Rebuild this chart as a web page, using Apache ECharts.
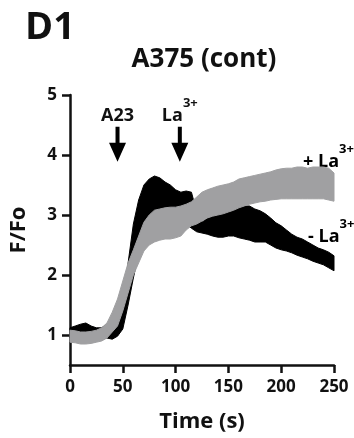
<!DOCTYPE html>
<html><head><meta charset="utf-8">
<script src="https://cdn.jsdelivr.net/npm/echarts@6/dist/echarts.min.js"></script>
<style>html,body{margin:0;padding:0;background:#fff}#c{width:354px;height:438px}</style>
</head><body><div id="c"></div>
<script>
// Time points (s)
const times = [0,5,10,15,20,25,30,35,40,45,50,55,60,65,70,75,80,85,90,95,100,105,110,115,120,125,130,135,140,145,150,155,160,165,170,175,180,185,190,195,200,205,210,215,220,225,230,235,240,245,250];
// "- La3+" trace (black) noisy band: lower / upper edges of F/Fo
const blackLow  = [0.95,0.95,0.93,0.95,0.93,0.92,0.93,0.95,0.93,0.98,1.10,1.50,1.95,2.35,2.55,2.70,2.80,2.85,2.85,2.85,2.85,2.85,2.85,2.78,2.72,2.70,2.68,2.65,2.63,2.63,2.65,2.65,2.62,2.60,2.58,2.55,2.55,2.55,2.50,2.45,2.42,2.40,2.37,2.33,2.30,2.27,2.23,2.20,2.17,2.12,2.07];
const blackHigh = [1.12,1.15,1.18,1.20,1.15,1.12,1.12,1.18,1.15,1.22,1.55,2.20,2.85,3.25,3.50,3.60,3.65,3.62,3.55,3.50,3.42,3.38,3.40,3.38,3.05,2.88,2.95,3.00,3.03,3.05,3.10,3.12,3.15,3.15,3.15,3.10,3.07,3.02,2.95,2.87,2.82,2.75,2.68,2.63,2.60,2.55,2.50,2.45,2.42,2.38,2.32];
// "+ La3+" trace (grey) noisy band: lower / upper edges of F/Fo
const grayLow  = [0.88,0.87,0.85,0.85,0.86,0.88,0.90,0.95,1.05,1.15,1.40,1.70,2.00,2.20,2.40,2.50,2.55,2.58,2.60,2.60,2.62,2.65,2.75,2.82,2.85,2.90,2.95,2.98,3.00,3.02,3.05,3.08,3.12,3.15,3.18,3.20,3.22,3.23,3.25,3.26,3.27,3.27,3.27,3.27,3.27,3.27,3.27,3.27,3.27,3.25,3.23];
const grayHigh = [1.08,1.07,1.05,1.05,1.06,1.08,1.12,1.20,1.38,1.60,1.90,2.20,2.42,2.65,2.88,3.00,3.08,3.10,3.12,3.13,3.13,3.15,3.18,3.22,3.30,3.38,3.42,3.45,3.48,3.50,3.52,3.55,3.60,3.62,3.64,3.66,3.68,3.70,3.72,3.75,3.77,3.78,3.78,3.80,3.80,3.78,3.80,3.80,3.80,3.78,3.70];
// Axis ticks
const xTicks = [0,50,100,150,200,250];
const yTicks = [1,2,3,4,5];
// Treatment arrows
const arrowTimes = [45, 104];
const arrowLevel = 4.18;
const arrowTexts = ['{a|A23}', '{a|La}{s|3+}'];

const FONT = '"Open Sans", "Liberation Sans", sans-serif';
const rich = {
  a: {fontSize: 18, fontWeight: 'bold', fontFamily: FONT, color: '#111', lineHeight: 28, verticalAlign: 'bottom'},
  s: {fontSize: 13, fontWeight: 'bold', fontFamily: FONT, color: '#111', lineHeight: 13, verticalAlign: 'top'}
};

function band(name, low, high, color, z) {
  return {
    type: 'custom', name: name, z: z, silent: true,
    data: times.map((t, i) => [t, low[i], high[i]]),
    encode: {x: 0, y: [1, 2]},
    renderItem: function (params, api) {
      if (params.dataIndex !== 0) return null;
      const pts = [];
      for (let i = 0; i < times.length; i++) pts.push(api.coord([times[i], high[i]]));
      for (let i = times.length - 1; i >= 0; i--) pts.push(api.coord([times[i], low[i]]));
      return {type: 'polygon', shape: {points: pts}, style: {fill: color, stroke: color, lineWidth: 1}};
    }
  };
}

const chart = echarts.init(document.getElementById('c'), null, {renderer: 'canvas'});
chart.setOption({
  animation: false,
  backgroundColor: '#fff',
  textStyle: {fontFamily: FONT},
  grid: {left: 66, right: 20, top: 95, bottom: 73, containLabel: false},
  xAxis: {
    type: 'value', min: 0, max: 250, interval: 50,
    name: 'Time (s)', nameLocation: 'middle', nameGap: 46,
    nameTextStyle: {fontSize: 22, fontWeight: 'bold', color: '#111', fontFamily: FONT},
    axisLine: {lineStyle: {color: '#111', width: 2.5}},
    axisTick: {length: 8, lineStyle: {color: '#111', width: 2.5}},
    axisLabel: {fontSize: 17, fontWeight: 'bold', color: '#111', margin: 14, fontFamily: FONT},
    splitLine: {show: false}
  },
  yAxis: {
    type: 'value', min: 0.5, max: 5,
    name: 'F/Fo', nameLocation: 'middle', nameGap: 40,
    nameTextStyle: {fontSize: 22, fontWeight: 'bold', color: '#111', fontFamily: FONT},
    axisLine: {show: true, lineStyle: {color: '#111', width: 2.5}},
    axisTick: {show: true, length: 8, customValues: yTicks, lineStyle: {color: '#111', width: 2.5}},
    axisLabel: {fontSize: 17, fontWeight: 'bold', color: '#111', margin: 13, customValues: yTicks, fontFamily: FONT},
    splitLine: {show: false}
  },
  graphic: [
    {type: 'text', x: 25, y: 28.5, style: {text: 'D1', fontSize: 38, fontWeight: 'bold', fill: '#111', fontFamily: FONT, verticalAlign: 'middle'}},
    {type: 'text', x: 204, y: 60, style: {text: 'A375 (cont)', fontSize: 26, fontWeight: 'bold', fill: '#111', fontFamily: FONT, align: 'center', verticalAlign: 'middle'}},
    {type: 'text', x: 303, y: 142.5, style: {text: '{a|+ La}{s|3+}', rich: rich, verticalAlign: 'top'}},
    {type: 'text', x: 308, y: 217.5, style: {text: '{a|- La}{s|3+}', rich: rich, verticalAlign: 'top'}}
  ],
  series: [
    band('- La3+', blackLow, blackHigh, '#000000', 2),
    band('+ La3+', grayLow, grayHigh, '#a0a0a2', 3),
    {
      type: 'scatter', silent: true, z: 5,
      symbol: 'path://M6.5,0L10.5,0L10.5,16L17,16L8.5,35L0,16L6.5,16Z',
      symbolSize: [17, 35],
      itemStyle: {color: '#000', opacity: 1},
      data: arrowTimes.map((t, i) => ({value: [t, arrowLevel], label: {formatter: arrowTexts[i]}})),
      label: {show: true, position: 'top', distance: 2, color: '#111', rich: rich}
    }
  ]
});
</script></body></html>
